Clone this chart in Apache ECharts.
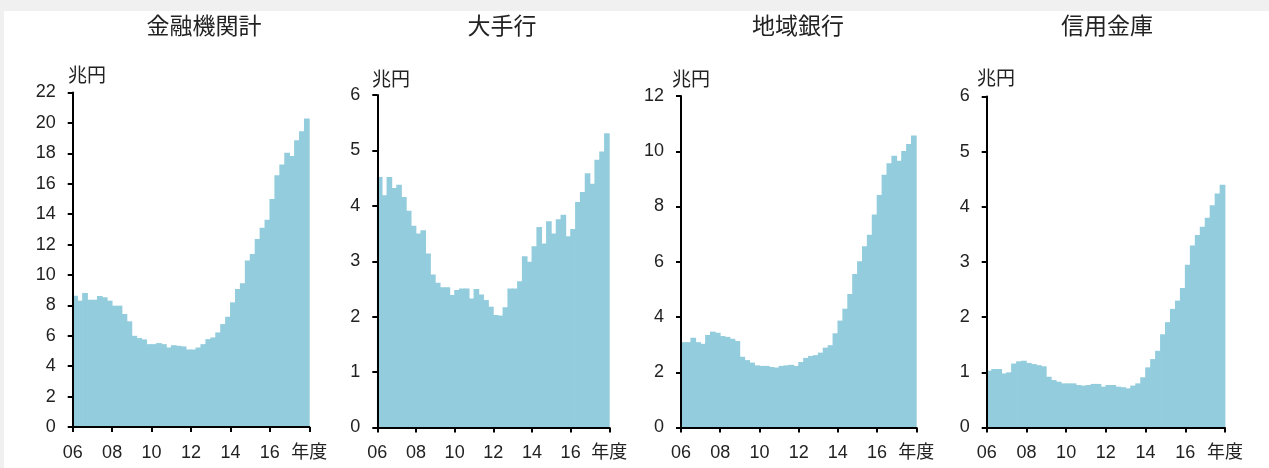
<!DOCTYPE html>
<html>
<head>
<meta charset="utf-8">
<script src="https://cdn.jsdelivr.net/npm/echarts@6/dist/echarts.min.js"></script>
<style>
  html, body { margin: 0; padding: 0; background: #f0f0f0; }
  #chart { position: absolute; left: 4px; top: 11px; width: 1265px; height: 457px; background: #fff; }
</style>
</head>
<body>
<div id="chart"></div>
<script>
// fiscal quarters FY2006Q1 .. FY2017Q4
const fiscalYears = ['06', '07', '08', '09', '10', '11', '12', '13', '14', '15', '16', '17'];
const quarters = fiscalYears.flatMap(y => ['Q1', 'Q2', 'Q3', 'Q4'].map(q => y + q));

const panelTitles = ['金融機関計', '大手行', '地域銀行', '信用金庫'];

// 兆円
const allBanks = [
  8.64, 8.31, 8.81, 8.37, 8.37, 8.62, 8.53, 8.31, 7.98, 7.98, 7.43, 6.95,
  6.00, 5.85, 5.76, 5.45, 5.45, 5.52, 5.45, 5.23, 5.38, 5.34, 5.30, 5.10,
  5.10, 5.23, 5.45, 5.78, 5.89, 6.22, 6.77, 7.25, 8.20, 9.08, 9.45, 10.95,
  11.38, 12.37, 13.10, 13.63, 15.00, 16.55, 17.27, 18.04, 17.82, 18.86, 19.45, 20.29
];
const majorBanks = [
  4.52, 4.19, 4.52, 4.32, 4.38, 4.16, 3.91, 3.64, 3.50, 3.56, 3.14, 2.76,
  2.61, 2.53, 2.53, 2.39, 2.48, 2.51, 2.51, 2.33, 2.50, 2.40, 2.30, 2.18,
  2.03, 2.02, 2.17, 2.51, 2.51, 2.64, 3.09, 2.99, 3.27, 3.62, 3.32, 3.72,
  3.50, 3.76, 3.84, 3.45, 3.58, 4.07, 4.25, 4.59, 4.40, 4.83, 4.98, 5.31
];
const regionalBanks = [
  3.09, 3.09, 3.25, 3.09, 3.03, 3.35, 3.47, 3.43, 3.31, 3.28, 3.21, 3.13,
  2.56, 2.44, 2.35, 2.25, 2.23, 2.23, 2.19, 2.17, 2.23, 2.25, 2.27, 2.23,
  2.37, 2.52, 2.59, 2.62, 2.71, 2.89, 2.98, 3.41, 3.87, 4.30, 4.83, 5.56,
  6.02, 6.56, 6.98, 7.71, 8.42, 9.15, 9.57, 9.84, 9.66, 10.01, 10.26, 10.57
];
const shinkin = [
  1.03, 1.06, 1.06, 0.98, 1.00, 1.16, 1.20, 1.21, 1.17, 1.15, 1.13, 1.11,
  0.92, 0.86, 0.83, 0.80, 0.80, 0.80, 0.77, 0.76, 0.77, 0.79, 0.79, 0.74,
  0.77, 0.77, 0.74, 0.73, 0.71, 0.76, 0.80, 0.91, 1.09, 1.24, 1.39, 1.69,
  1.91, 2.15, 2.30, 2.53, 2.95, 3.30, 3.49, 3.64, 3.80, 4.03, 4.24, 4.40
];
const panelData = [allBanks, majorBanks, regionalBanks, shinkin];
const yMax = [22, 6, 12, 6];
const yStep = [2, 1, 2, 1];

// x ticks: fiscal year 2006 .. 2018, every 2 years
const xStart = 2006, xEnd = 2018, xStep = 2;

// page-pixel layout of each plot (left, right, top, bottom)
const OX = 4, OY = 11;
const boxes = [
  [72.7, 309.3, 92.5, 427],
  [377.3, 609.3, 95, 427.5],
  [681, 916.3, 96, 427.5],
  [986.7, 1225, 96.5, 427.5]
];
const titleCenters = [204, 502, 798, 1107];
const unitPos = [[68, 77], [372, 81], [672, 81], [977, 80]];

const FONT = "'Liberation Sans', 'Noto Sans CJK JP', sans-serif";
const TEXT = '#222';
const FILL = '#93cddd';

const chart = echarts.init(document.getElementById('chart'));

// quarterly column; widened a hair so neighbours overlap and no seams show
function renderStep(params, api) {
  const top = api.coord([api.value(0), api.value(1)]);
  const base = api.coord([api.value(0), 0]);
  const w = api.size([1, 0])[0];
  return {
    type: 'rect',
    shape: { x: top[0] - w / 2 - 0.4, y: top[1], width: w + 0.8, height: base[1] - top[1] },
    style: { fill: FILL }
  };
}

const grid = [], xAxis = [], yAxis = [], series = [], graphic = [];

boxes.forEach((b, i) => {
  grid.push({
    left: b[0] - OX, top: b[2] - OY,
    width: b[1] - b[0], height: b[3] - b[2],
    containLabel: false
  });
  // hidden category axis carrying the quarterly columns
  xAxis.push({
    type: 'category', gridIndex: i, data: quarters, show: false, boundaryGap: true
  });
  // visible year axis
  xAxis.push({
    type: 'value', gridIndex: i, min: xStart, max: xEnd, interval: xStep,
    position: 'bottom',
    axisLine: { show: true, onZero: false, lineStyle: { color: '#000', width: 2 } },
    axisTick: { show: true, inside: false, length: 5, lineStyle: { color: '#000', width: 2 } },
    axisLabel: {
      color: TEXT, fontFamily: FONT, fontSize: 18, margin: 17,
      showMinLabel: true, showMaxLabel: true,
      formatter: v => v === xEnd ? '年度' : String(v).slice(2)
    },
    splitLine: { show: false },
    z: 3
  });
  yAxis.push({
    type: 'value', gridIndex: i, min: 0, max: yMax[i], interval: yStep[i],
    axisLine: { show: true, lineStyle: { color: '#000', width: 2 } },
    axisTick: { show: true, inside: false, length: 5, lineStyle: { color: '#000', width: 2 } },
    axisLabel: { color: TEXT, fontFamily: FONT, fontSize: 18, margin: 17 },
    splitLine: { show: false },
    z: 3
  });
  series.push({
    type: 'custom',
    xAxisIndex: i * 2, yAxisIndex: i,
    data: panelData[i].map((v, k) => [quarters[k], v]),
    encode: { x: 0, y: 1 },
    renderItem: renderStep,
    silent: true,
    z: 1
  });
  graphic.push({
    type: 'text', x: titleCenters[i] - OX, y: 28 - OY,
    style: { text: panelTitles[i], font: `23px ${FONT}`, fill: TEXT, textAlign: 'center', textVerticalAlign: 'middle' }
  });
  graphic.push({
    type: 'text', x: unitPos[i][0] - OX, y: unitPos[i][1] - OY,
    style: { text: '兆円', font: `19px ${FONT}`, fill: TEXT, textAlign: 'left', textVerticalAlign: 'middle' }
  });
});

chart.setOption({
  animation: false,
  backgroundColor: '#fff',
  grid, xAxis, yAxis, series, graphic
});
</script>
</body>
</html>
